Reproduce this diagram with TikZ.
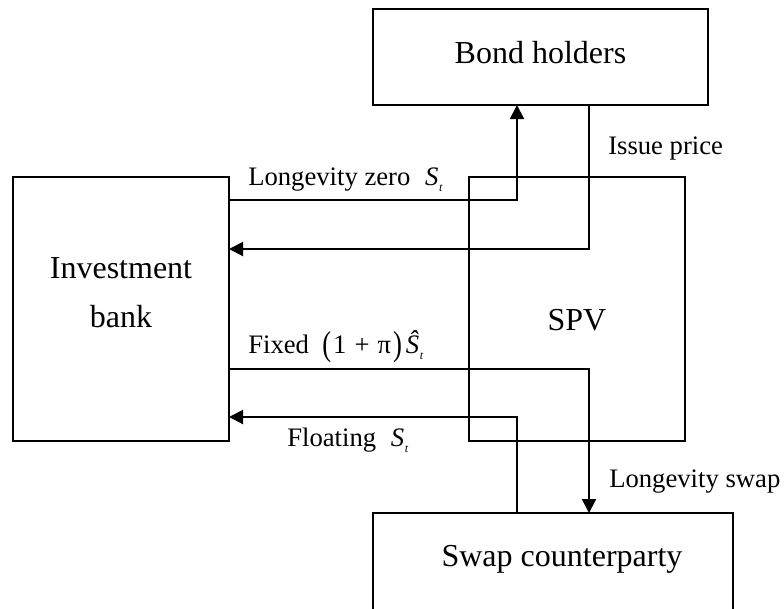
\documentclass[tikz,border=0pt]{standalone}
\usepackage{fontspec}
\setmainfont{Liberation Serif}
\usetikzlibrary{arrows.meta}
\newcommand\subT{\raisebox{-4.5pt}{\fontsize{9}{9}\selectfont\itshape t}}
\newcommand\Svar{\textit{S}\kern0.5pt\subT}
\newcommand\Shat{\textit{\^{S}}\kern0.5pt\subT}
\tikzset{
  boxnode/.style={draw, line width=1.5pt, rectangle, inner sep=0pt, outer sep=0pt},
  bigtxt/.style={inner sep=0pt, anchor=base, font=\fontsize{24}{29}\selectfont},
  smalltxt/.style={inner sep=0pt, anchor=base west, font=\fontsize{20}{24}\selectfont},
  flow/.style={line width=1.5pt, -{Triangle[length=10.5pt,width=10.5pt]}}
}
\begin{document}
\begin{tikzpicture}[x=0.75pt, y=-0.75pt]
\useasboundingbox (0,0) rectangle (784,608);
% boxes
\node[boxnode, minimum width=162pt, minimum height=198pt] (ib) at (121,309) {};
\node[boxnode, minimum width=162pt, minimum height=198pt] (spv) at (577,309) {};
\node[boxnode, minimum width=251.25pt, minimum height=72pt] (bh) at (540.5,57) {};
\node[boxnode, minimum width=270pt, minimum height=72.75pt] (sc) at (553,561.5) {};
% box texts
\node[bigtxt] (bhl) at (540.5,63) {Bond holders};
\node[bigtxt] (ib1) at (121,278) {Investment};
\node[bigtxt] (ib2) at (121,327) {bank};
\node[bigtxt] (spvl) at (577,330) {SPV};
\node[bigtxt] (scl) at (562,566) {Swap counterparty};
% connector turning points
\coordinate (p1) at (517,200);
\coordinate (p2) at (589,249);
\coordinate (p3) at (589,369);
\coordinate (p4) at (517,417);
% connectors
\draw[flow] (p1 -| ib.east) -| (p1 |- bh.south);
\draw[flow] (p2 |- bh.south) |- (p2 -| ib.east);
\draw[flow] (p3 -| ib.east) -| (p3 |- sc.north);
\draw[flow] (p4 |- sc.north) |- (p4 -| ib.east);
% labels
\node[smalltxt] (lz) at (248,185) {Longevity zero\hspace{0.3em} \Svar};
\node[smalltxt] (ip) at (608,154) {Issue price};
\node[smalltxt] (fx) at (248,353) {Fixed\hspace{0.25em} \raisebox{-1.5pt}{\scalebox{1}[1.3]{(}}\kern1.5pt1\hspace{0.3em}+\hspace{0.3em}π\kern1.5pt\raisebox{-1.5pt}{\scalebox{1}[1.3]{)}}\kern3pt\Shat};
\node[smalltxt] (fl) at (287,446) {Floating\hspace{0.3em} \Svar};
\node[smalltxt] (ls) at (609,487) {Longevity swap};
\end{tikzpicture}
\end{document}
